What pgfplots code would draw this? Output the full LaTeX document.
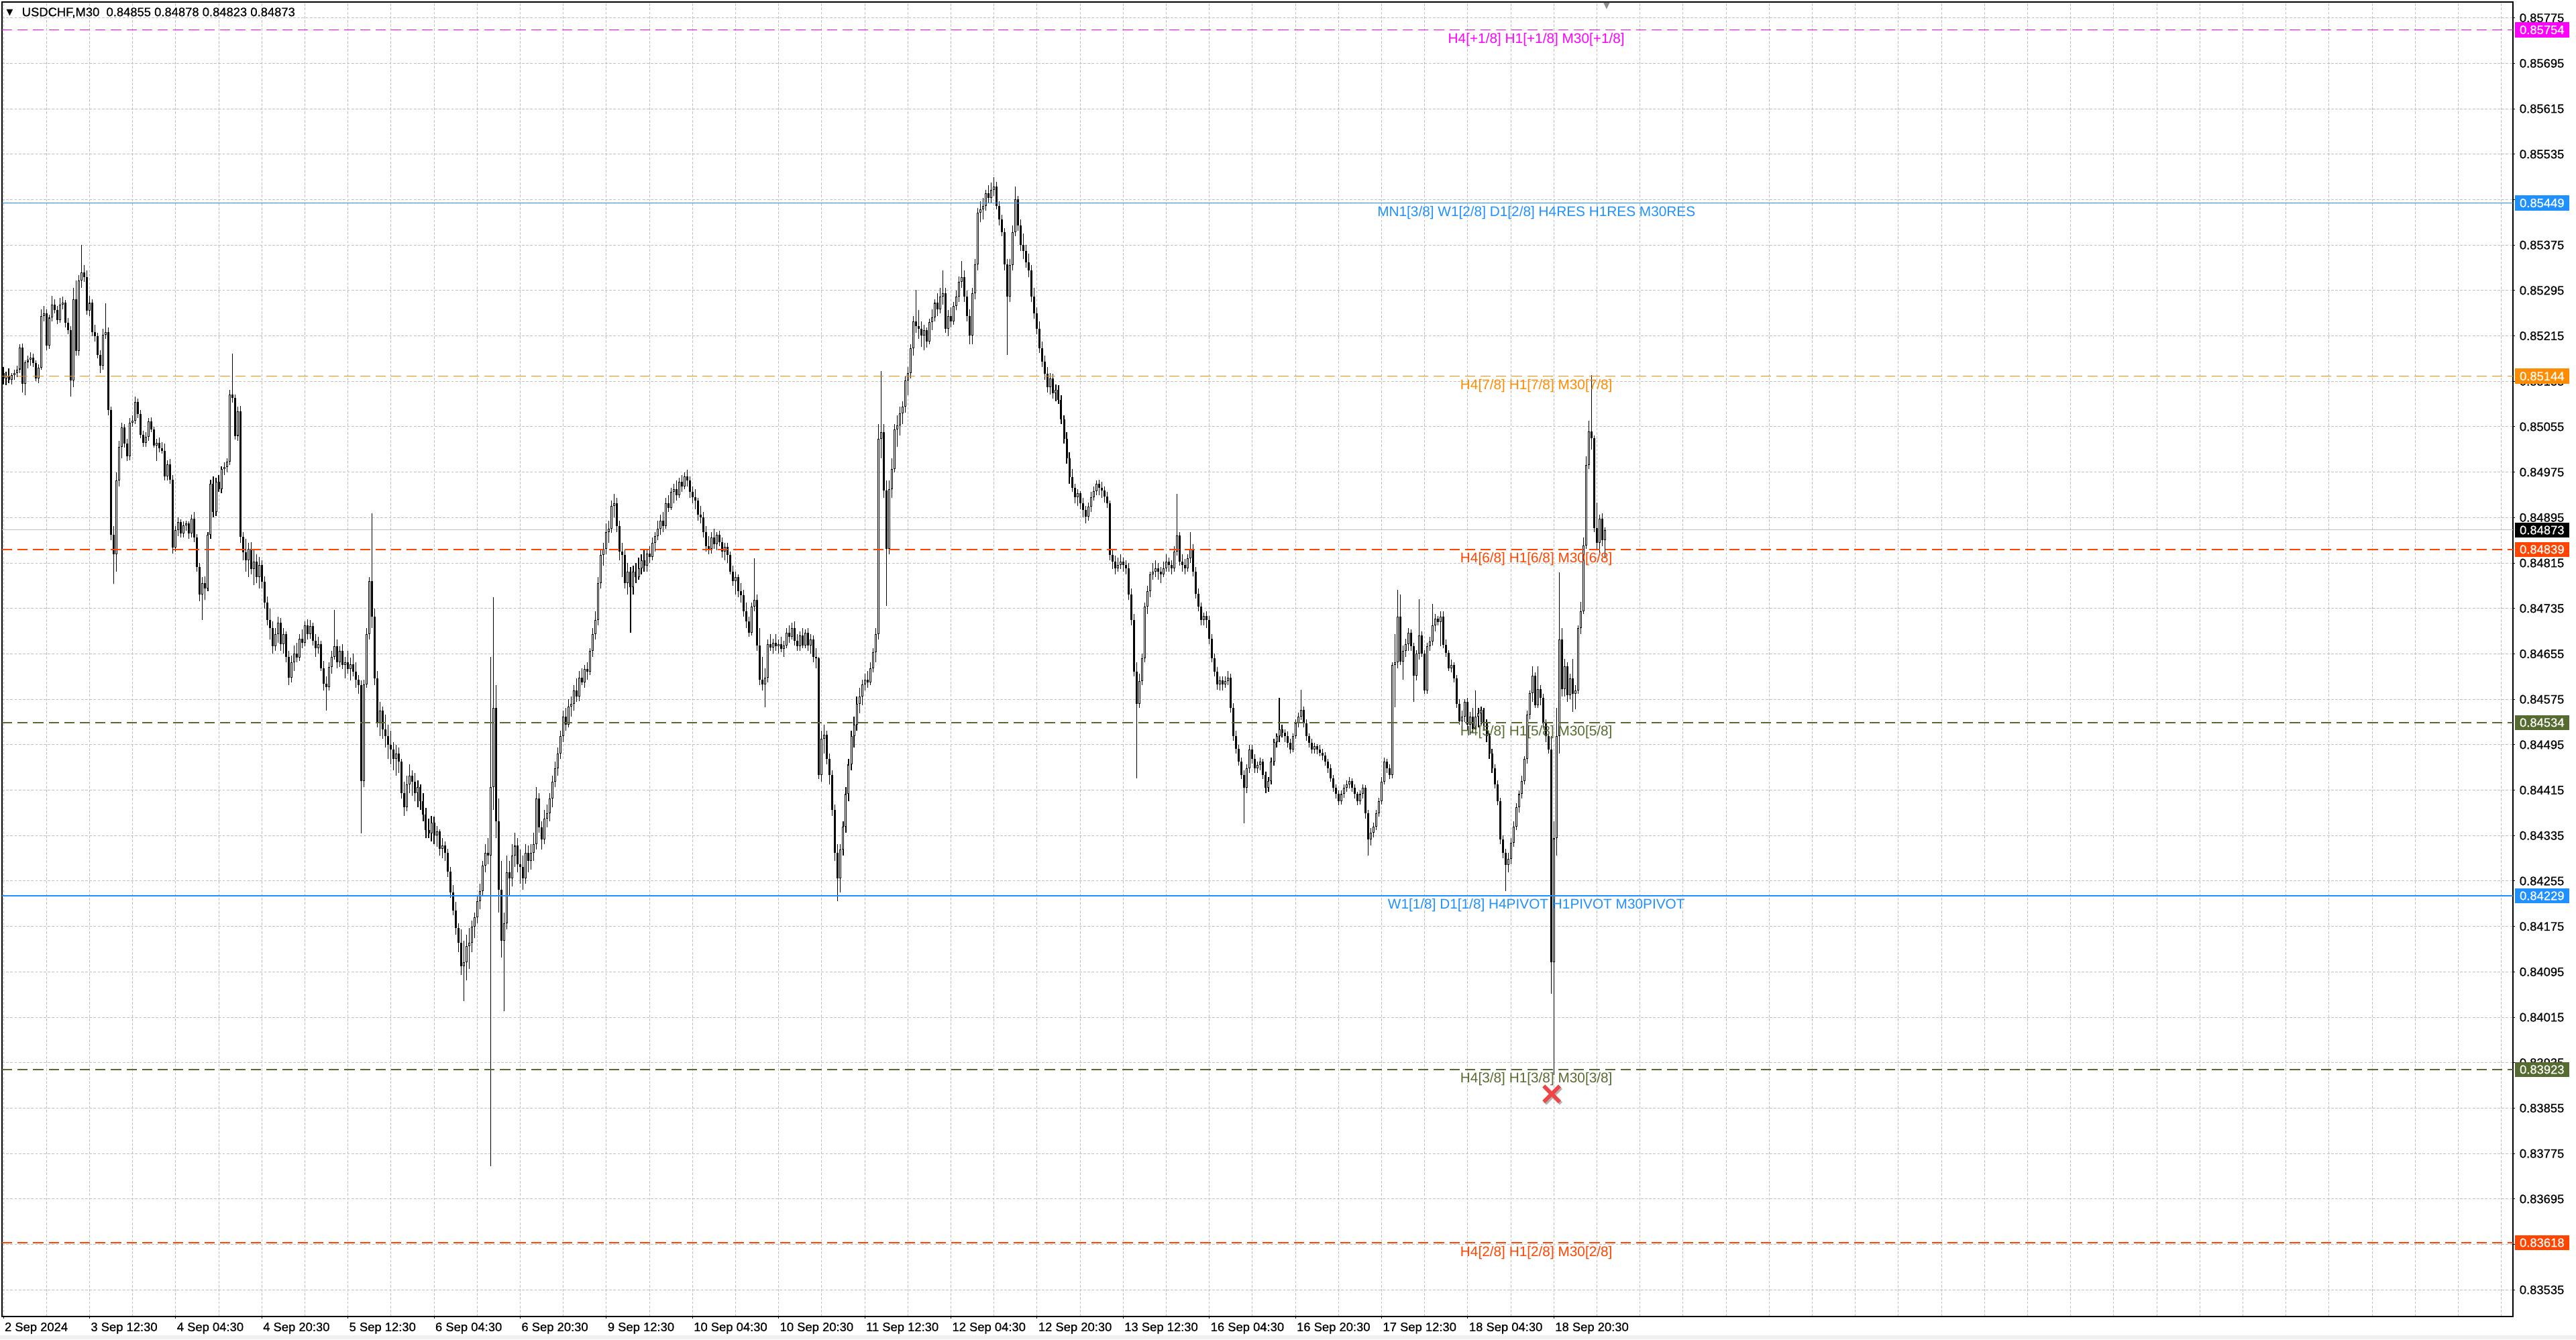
\documentclass[border=0pt]{standalone}
\usepackage{fontspec}
\setmainfont{Liberation Sans}
\newfontface\tickface[FakeBold=0.7]{Liberation Sans}
\newfontfamily\dejavu{DejaVu Sans}
\usepackage{pgfplots}
\usepackage{pgfplotstable}
\pgfplotsset{compat=1.18}

\definecolor{lvmag}{HTML}{FF00FF}
\definecolor{lvblue}{HTML}{1E90FF}
\definecolor{lvorange}{HTML}{FF8C00}
\definecolor{lvred}{HTML}{FF4500}
\definecolor{lvolive}{HTML}{556B2F}
\definecolor{gridgray}{HTML}{C0C0C0}
\definecolor{xred}{HTML}{EE4646}

\newcommand{\tinyfont}{\tickface\fontsize{4.6}{5}\selectfont}
\newcommand{\lvfont}{\fontsize{5.2}{6}\selectfont}

% USDCHF M30 bars, prices in points (1e-5): index open high low close
\pgfplotstableread{
i o h l c
0 85150 85160 85130 85140
1 85140 85152 85128 85145
2 85145 85158 85132 85138
3 85138 85150 85130 85146
4 85146 85156 85138 85150
5 85150 85162 85142 85156
6 85156 85200 85150 85194
7 85194 85202 85115 85131
8 85131 85172 85110 85169
9 85169 85180 85158 85173
10 85173 85186 85162 85177
11 85177 85184 85160 85167
12 85167 85172 85135 85140
13 85140 85165 85132 85159
14 85159 85262 85155 85250
15 85250 85268 85240 85255
16 85255 85262 85190 85198
17 85198 85252 85192 85247
18 85247 85285 85240 85270
19 85270 85280 85255 85261
20 85261 85268 85236 85243
21 85243 85282 85238 85270
22 85270 85284 85262 85274
23 85274 85278 85230 85238
24 85238 85246 85218 85225
25 85225 85232 85108 85136
26 85136 85300 85125 85280
27 85280 85312 85180 85188
28 85188 85322 85180 85313
29 85313 85375 85300 85327
30 85327 85340 85310 85318
31 85318 85330 85252 85259
32 85259 85285 85250 85273
33 85273 85280 85215 85222
34 85222 85235 85205 85214
35 85214 85220 85175 85181
36 85181 85190 85150 85162
37 85162 85228 85155 85217
38 85217 85272 85210 85222
39 85222 85230 85075 85084
40 85084 85090 84855 84865
41 84865 84880 84778 84830
42 84830 84975 84800 84960
43 84960 85030 84950 85020
44 85020 85062 85000 85054
45 85054 85060 85018 85025
46 85025 85034 84995 85003
47 85003 85070 84996 85062
48 85062 85075 85055 85066
49 85066 85108 85060 85099
50 85099 85105 85070 85078
51 85078 85085 85035 85041
52 85041 85048 85020 85027
53 85027 85045 85020 85037
54 85037 85070 85030 85064
55 85064 85072 85045 85050
56 85050 85055 85018 85022
57 85022 85034 84995 85027
58 85027 85036 85010 85017
59 85017 85028 85008 85012
60 85012 85026 84960 84968
61 84968 84996 84960 84989
62 84989 84998 84955 84962
63 84962 84970 84832 84842
64 84842 84880 84835 84873
65 84873 84895 84862 84887
66 84887 84892 84860 84867
67 84867 84888 84860 84881
68 84881 84890 84872 84885
69 84885 84888 84858 84867
70 84867 84900 84860 84893
71 84893 84905 84852 84860
72 84860 84866 84800 84808
73 84808 84815 84748 84760
74 84760 84790 84715 84780
75 84780 84792 84750 84770
76 84770 84870 84765 84865
77 84865 84962 84858 84955
78 84955 84968 84895 84905
79 84905 84965 84898 84958
80 84958 84970 84940 84945
81 84945 84985 84938 84980
82 84980 84992 84970 84984
83 84984 85000 84975 84993
84 84993 85120 84988 85112
85 85112 85184 85098 85106
86 85106 85112 85032 85039
87 85039 85090 85030 85082
88 85082 85092 84850 84861
89 84861 84870 84820 84834
90 84834 84858 84800 84820
91 84820 84850 84790 84840
92 84840 84852 84795 84805
93 84805 84838 84776 84818
94 84818 84830 84780 84790
95 84790 84826 84770 84812
96 84812 84820 84770 84782
97 84782 84792 84735 84745
98 84745 84756 84705 84715
99 84715 84735 84680 84700
100 84700 84712 84655 84668
101 84668 84700 84660 84690
102 84690 84720 84675 84710
103 84710 84718 84660 84672
104 84672 84700 84655 84690
105 84690 84695 84640 84650
106 84650 84660 84600 84613
107 84613 84652 84605 84640
108 84640 84670 84625 84655
109 84655 84675 84640 84648
110 84648 84690 84642 84682
111 84682 84698 84665 84675
112 84675 84712 84668 84705
113 84705 84716 84680 84690
114 84690 84715 84682 84704
115 84704 84710 84670 84678
116 84678 84690 84650 84665
117 84665 84685 84655 84672
118 84672 84678 84625 84630
119 84630 84642 84590 84602
120 84602 84615 84555 84596
121 84596 84640 84590 84632
122 84632 84660 84620 84650
123 84650 84732 84645 84668
124 84668 84680 84630 84640
125 84640 84668 84632 84660
126 84660 84672 84628 84636
127 84636 84650 84612 84640
128 84640 84660 84620 84628
129 84628 84648 84608 84637
130 84637 84656 84615 84624
131 84624 84640 84595 84610
132 84610 84618 84585 84600
133 84600 84608 84339 84431
134 84431 84610 84420 84601
135 84601 84700 84595 84690
136 84690 84790 84680 84783
137 84783 84903 84700 84720
138 84720 84735 84600 84612
139 84612 84625 84525 84533
140 84533 84570 84510 84555
141 84555 84562 84505 84522
142 84522 84548 84490 84510
143 84510 84530 84470 84495
144 84495 84520 84460 84487
145 84487 84500 84450 84470
146 84470 84495 84440 84480
147 84480 84490 84445 84465
148 84465 84470 84400 84410
149 84410 84430 84370 84385
150 84385 84440 84378 84425
151 84425 84460 84410 84440
152 84440 84450 84405 84430
153 84430 84445 84395 84410
154 84410 84432 84385 84420
155 84420 84425 84380 84396
156 84396 84410 84360 84372
157 84372 84384 84330 84345
158 84345 84365 84330 84339
159 84339 84370 84325 84358
160 84358 84368 84320 84335
161 84335 84352 84315 84342
162 84342 84346 84300 84312
163 84312 84330 84295 84318
164 84318 84325 84290 84305
165 84305 84312 84262 84271
166 84271 84280 84225 84235
167 84235 84248 84195 84203
168 84203 84218 84160 84172
169 84172 84180 84130 84146
170 84146 84170 84090 84105
171 84105 84150 84043 84112
172 84112 84160 84080 84140
173 84140 84172 84100 84146
174 84146 84185 84130 84175
175 84175 84200 84155 84191
176 84191 84228 84180 84220
177 84220 84250 84205 84237
178 84237 84290 84230 84282
179 84282 84320 84270 84305
180 84305 84330 84285 84300
181 84300 84650 83753 84420
182 84420 84755 84380 84560
183 84560 84600 84330 84360
184 84360 84400 84200 84240
185 84240 84290 84120 84150
186 84150 84200 84026 84180
187 84180 84300 84170 84270
188 84270 84290 84230 84260
189 84260 84320 84245 84300
190 84300 84340 84280 84317
191 84317 84330 84270 84285
192 84285 84310 84250 84280
193 84280 84300 84240 84260
194 84260 84320 84250 84305
195 84305 84318 84270 84290
196 84290 84320 84275 84305
197 84305 84340 84290 84320
198 84320 84420 84310 84400
199 84400 84410 84340 84350
200 84350 84360 84310 84328
201 84328 84380 84320 84365
202 84365 84390 84350 84374
203 84374 84410 84360 84400
204 84400 84440 84385 84430
205 84430 84465 84420 84453
206 84453 84490 84440 84480
207 84480 84520 84470 84510
208 84510 84555 84500 84544
209 84544 84560 84520 84530
210 84530 84575 84525 84562
211 84562 84580 84545 84567
212 84567 84600 84555 84590
213 84590 84612 84570 84580
214 84580 84625 84572 84613
215 84613 84630 84600 84605
216 84605 84635 84595 84628
217 84628 84640 84610 84624
218 84624 84665 84618 84660
219 84660 84700 84650 84690
220 84690 84730 84680 84715
221 84715 84790 84705 84780
222 84780 84840 84770 84829
223 84829 84850 84810 84840
224 84840 84885 84830 84870
225 84870 84890 84850 84875
226 84875 84925 84868 84915
227 84915 84937 84895 84920
228 84920 84930 84870 84880
229 84880 84890 84820 84835
230 84835 84850 84790 84829
231 84829 84840 84770 84780
232 84780 84815 84760 84800
233 84800 84808 84692 84772
234 84772 84810 84760 84800
235 84800 84815 84780 84790
236 84790 84825 84785 84806
237 84806 84830 84795 84820
238 84820 84840 84800 84810
239 84810 84840 84800 84832
240 84832 84845 84815 84826
241 84826 84860 84820 84850
242 84850 84870 84835 84862
243 84862 84890 84855 84875
244 84875 84900 84865 84890
245 84890 84905 84870 84880
246 84880 84930 84875 84920
247 84920 84935 84905 84912
248 84912 84948 84908 84940
249 84940 84955 84920 84945
250 84945 84960 84925 84935
251 84935 84965 84930 84958
252 84958 84970 84940 84950
253 84950 84975 84945 84968
254 84968 84979 84950 84960
255 84960 84968 84930 84940
256 84940 84950 84920 84931
257 84931 84945 84910 84925
258 84925 84930 84890 84900
259 84900 84915 84885 84895
260 84895 84905 84860 84870
261 84870 84880 84835 84845
262 84845 84862 84830 84840
263 84840 84870 84832 84860
264 84860 84875 84840 84848
265 84848 84870 84838 84865
266 84865 84872 84845 84852
267 84852 84860 84825 84835
268 84835 84850 84820 84843
269 84843 84850 84815 84829
270 84829 84835 84795 84800
271 84800 84810 84775 84783
272 84783 84800 84760 84790
273 84790 84795 84755 84765
274 84765 84780 84745 84758
275 84758 84768 84720 84730
276 84730 84745 84700 84712
277 84712 84720 84685 84692
278 84692 84745 84688 84738
279 84738 84823 84730 84750
280 84750 84760 84660 84670
281 84670 84700 84600 84610
282 84610 84650 84590 84601
283 84601 84630 84561 84613
284 84613 84680 84605 84672
285 84672 84690 84660 84666
286 84666 84682 84655 84675
287 84675 84690 84660 84668
288 84668 84680 84655 84672
289 84672 84685 84658 84664
290 84664 84678 84650 84670
291 84670 84700 84665 84692
292 84692 84705 84675 84685
293 84685 84710 84680 84700
294 84700 84712 84670 84678
295 84678 84690 84660 84668
296 84668 84695 84660 84688
297 84688 84700 84665 84670
298 84670 84698 84665 84692
299 84692 84700 84660 84670
300 84670 84690 84655 84680
301 84680 84688 84640 84650
302 84650 84665 84630 84647
303 84647 84650 84435 84442
304 84442 84520 84430 84505
305 84505 84530 84480 84512
306 84512 84520 84460 84470
307 84470 84480 84425 84442
308 84442 84450 84370 84380
309 84380 84390 84290 84305
310 84305 84320 84220 84260
311 84260 84320 84235 84310
312 84310 84360 84300 84351
313 84351 84420 84340 84408
314 84408 84470 84395 84460
315 84460 84520 84450 84510
316 84510 84545 84490 84530
317 84530 84580 84520 84567
318 84567 84595 84550 84580
319 84580 84610 84565 84601
320 84601 84620 84590 84610
321 84610 84625 84595 84605
322 84605 84640 84600 84630
323 84630 84665 84622 84658
324 84658 84700 84640 84690
325 84690 85060 84680 85034
326 85034 85153 85000 85045
327 85045 85060 84930 84943
328 84943 84960 84740 84840
329 84840 84960 84830 84945
330 84945 85000 84930 84980
331 84980 85060 84975 85050
332 85050 85075 85020 85057
333 85057 85090 85040 85079
334 85079 85100 85060 85090
335 85090 85145 85080 85136
336 85136 85160 85110 85150
337 85150 85200 85140 85193
338 85193 85250 85180 85240
339 85240 85296 85220 85232
340 85232 85260 85210 85228
341 85228 85240 85196 85216
342 85216 85235 85190 85225
343 85225 85230 85195 85205
344 85205 85245 85200 85239
345 85239 85262 85225 85248
346 85248 85280 85240 85273
347 85273 85290 85250 85262
348 85262 85300 85255 85284
349 85284 85330 85270 85290
350 85290 85300 85220 85227
351 85227 85260 85215 85250
352 85250 85265 85230 85240
353 85240 85275 85235 85268
354 85268 85295 85260 85284
355 85284 85320 85275 85310
356 85310 85347 85300 85318
357 85318 85330 85275 85284
358 85284 85295 85240 85250
359 85250 85262 85200 85216
360 85216 85300 85200 85290
361 85290 85350 85280 85341
362 85341 85440 85330 85432
363 85432 85452 85415 85438
364 85438 85458 85420 85444
365 85444 85472 85435 85466
366 85466 85480 85448 85458
367 85458 85485 85450 85472
368 85472 85495 85462 85478
369 85478 85486 85438 85444
370 85444 85452 85410 85420
371 85420 85428 85390 85398
372 85398 85405 85330 85341
373 85341 85350 85182 85284
374 85284 85350 85275 85340
375 85340 85410 85330 85398
376 85398 85478 85390 85455
377 85455 85462 85400 85410
378 85410 85420 85365 85375
379 85375 85395 85350 85364
380 85364 85375 85335 85345
381 85345 85360 85318 85330
382 85330 85340 85275 85284
383 85284 85300 85245 85255
384 85255 85265 85218 85227
385 85227 85240 85185 85193
386 85193 85205 85160 85170
387 85170 85180 85138 85148
388 85148 85160 85115 85125
389 85125 85150 85112 85140
390 85140 85148 85105 85114
391 85114 85130 85100 85120
392 85120 85128 85095 85102
393 85102 85110 85060 85068
394 85068 85075 85025 85034
395 85034 85045 84990 85000
396 85000 85010 84955 84966
397 84966 84980 84940 84948
398 84948 84955 84920 84931
399 84931 84945 84915 84938
400 84938 84942 84910 84920
401 84920 84930 84895 84908
402 84908 84915 84885 84897
403 84897 84922 84890 84914
404 84914 84940 84905 84931
405 84931 84950 84925 84942
406 84942 84960 84935 84954
407 84954 84962 84935 84948
408 84948 84958 84930 84943
409 84943 84950 84922 84932
410 84932 84940 84912 84920
411 84920 84925 84820 84829
412 84829 84840 84805 84818
413 84818 84828 84795 84806
414 84806 84825 84800 84812
415 84812 84830 84805 84818
416 84818 84825 84800 84812
417 84812 84820 84795 84806
418 84806 84815 84750 84760
419 84760 84770 84705 84715
420 84715 84725 84615 84624
421 84624 84640 84436 84567
422 84567 84620 84560 84607
423 84607 84655 84600 84647
424 84647 84745 84640 84738
425 84738 84775 84725 84766
426 84766 84800 84755 84795
427 84795 84815 84785 84800
428 84800 84820 84790 84806
429 84806 84815 84785 84800
430 84800 84808 84780 84795
431 84795 84818 84790 84806
432 84806 84830 84800 84818
433 84818 84825 84800 84812
434 84812 84820 84795 84806
435 84806 84845 84800 84835
436 84835 84937 84828 84863
437 84863 84870 84810 84818
438 84818 84830 84800 84812
439 84812 84822 84795 84806
440 84806 84830 84800 84823
441 84823 84870 84815 84840
442 84840 84848 84792 84800
443 84800 84808 84752 84761
444 84761 84770 84730 84738
445 84738 84745 84705 84715
446 84715 84728 84705 84722
447 84722 84730 84700 84715
448 84715 84722 84672 84681
449 84681 84690 84640 84647
450 84647 84655 84615 84624
451 84624 84632 84592 84601
452 84601 84615 84590 84608
453 84608 84615 84590 84601
454 84601 84615 84595 84607
455 84607 84625 84600 84613
456 84613 84620 84552 84560
457 84560 84568 84502 84510
458 84510 84520 84480 84488
459 84488 84495 84458 84465
460 84465 84472 84435 84442
461 84442 84450 84357 84419
462 84419 84460 84410 84453
463 84453 84495 84445 84487
464 84487 84495 84462 84470
465 84470 84478 84445 84453
466 84453 84465 84445 84459
467 84459 84472 84450 84465
468 84465 84470 84435 84442
469 84442 84448 84410 84419
470 84419 84438 84412 84431
471 84431 84472 84425 84465
472 84465 84505 84458 84499
473 84499 84515 84490 84510
474 84510 84578 84500 84522
475 84522 84530 84508 84516
476 84516 84522 84500 84510
477 84510 84518 84490 84498
478 84498 84505 84480 84487
479 84487 84515 84482 84510
480 84510 84540 84505 84533
481 84533 84552 84525 84545
482 84545 84592 84538 84556
483 84556 84562 84525 84533
484 84533 84540 84502 84510
485 84510 84515 84490 84498
486 84498 84505 84480 84487
487 84487 84498 84480 84492
488 84492 84496 84478 84487
489 84487 84495 84475 84481
490 84481 84488 84468 84476
491 84476 84482 84458 84465
492 84465 84470 84445 84453
493 84453 84460 84430 84436
494 84436 84442 84412 84419
495 84419 84425 84400 84408
496 84408 84415 84388 84396
497 84396 84415 84390 84408
498 84408 84425 84402 84419
499 84419 84432 84412 84425
500 84425 84438 84418 84431
501 84431 84436 84412 84419
502 84419 84425 84400 84408
503 84408 84412 84388 84396
504 84396 84415 84390 84408
505 84408 84425 84400 84419
506 84419 84424 84365 84374
507 84374 84380 84300 84328
508 84328 84348 84318 84340
509 84340 84358 84332 84351
510 84351 84380 84345 84374
511 84374 84402 84368 84396
512 84396 84438 84390 84430
513 84430 84472 84425 84465
514 84465 84470 84445 84453
515 84453 84460 84435 84442
516 84442 84640 84436 84635
517 84635 84690 84561 84640
518 84640 84768 84630 84720
519 84720 84760 84635 84641
520 84641 84670 84610 84660
521 84660 84682 84650 84672
522 84672 84700 84660 84692
523 84692 84698 84660 84669
524 84669 84675 84570 84616
525 84616 84662 84608 84655
526 84655 84751 84645 84688
527 84688 84695 84650 84656
528 84656 84662 84585 84591
529 84591 84675 84585 84669
530 84669 84685 84660 84677
531 84677 84743 84670 84705
532 84705 84725 84695 84717
533 84717 84722 84705 84711
534 84711 84730 84668 84721
535 84721 84730 84665 84671
536 84671 84680 84650 84657
537 84657 84662 84625 84630
538 84630 84645 84622 84635
539 84635 84640 84605 84612
540 84612 84618 84560 84567
541 84567 84575 84530 84536
542 84536 84555 84525 84545
543 84545 84575 84535 84570
544 84570 84578 84520 84530
545 84530 84553 84512 84545
546 84545 84560 84515 84522
547 84522 84590 84518 84544
548 84544 84560 84525 84550
549 84550 84562 84530 84556
550 84556 84560 84520 84533
551 84533 84540 84500 84510
552 84510 84515 84470 84480
553 84480 84488 84445 84453
554 84453 84460 84418 84425
555 84425 84432 84388 84396
556 84396 84402 84320 84328
557 84328 84335 84295 84305
558 84305 84312 84237 84283
559 84283 84305 84270 84294
560 84294 84330 84285 84322
561 84322 84360 84315 84351
562 84351 84392 84345 84385
563 84385 84415 84375 84408
564 84408 84440 84400 84431
565 84431 84475 84425 84470
566 84470 84555 84462 84548
567 84548 84590 84540 84586
568 84586 84633 84570 84616
569 84616 84622 84560 84565
570 84565 84633 84560 84593
571 84593 84600 84565 84578
572 84578 84585 84525 84533
573 84533 84540 84500 84510
574 84510 84520 84480 84487
575 84487 84510 84056 84112
576 84112 84360 83914 84330
577 84330 84560 84300 84510
578 84510 84798 84480 84680
579 84680 84700 84580 84593
580 84593 84646 84580 84633
581 84633 84640 84570 84582
582 84582 84620 84575 84612
583 84612 84646 84553 84585
584 84585 84600 84557 84590
585 84590 84705 84585 84700
586 84700 84747 84690 84730
587 84730 84860 84725 84846
588 84846 85003 84840 84988
589 84988 85066 84980 85047
590 85047 85146 85015 85035
591 85035 85040 84870 84876
592 84876 84922 84840 84850
593 84850 84900 84831 84893
594 84893 84903 84845 84855
595 84855 84878 84823 84873
}\bars

\begin{document}
\begin{tikzpicture}
\useasboundingbox (0,0) rectangle (960pt,499pt);
\fill[black!6] (0,0) rectangle (960pt,1.6pt);
\begin{axis}[
  at={(0.75pt,498.25pt)}, anchor=north west,
  scale only axis, width=935.75pt, height=489.75pt,
  xmin=-0.5, xmax=932.3, ymin=83488, ymax=85803,
  axis line style={black, line width=0.35pt},
  tick align=outside, major tick length=0.75pt, minor tick length=0pt,
  tick style={black, line width=0.25pt},
  xtick pos=bottom, ytick pos=right, yticklabel pos=right,
  xtick={0,32,64,96,128,160,192,224,256,288,320,352,384,416,448,480,512,544,576},
  xticklabels={2 Sep 2024, 3 Sep 12:30, 4 Sep 04:30, 4 Sep 20:30, 5 Sep 12:30, 6 Sep 04:30, 6 Sep 20:30, 9 Sep 12:30, 10 Sep 04:30, 10 Sep 20:30, 11 Sep 12:30, 12 Sep 04:30, 12 Sep 20:30, 13 Sep 12:30, 16 Sep 04:30, 16 Sep 20:30, 17 Sep 12:30, 18 Sep 04:30, 18 Sep 20:30},
  minor xtick={16,48,80,112,144,176,208,240,272,304,336,368,400,432,464,496,528,560,592,608,624,640,656,672,688,704,720,736,752,768,784,800,816,832,848,864,880,896,912,928},
  ytick={83535,83615,83695,83775,83855,83935,84015,84095,84175,84255,84335,84415,84495,84575,84655,84735,84815,84895,84975,85055,85135,85215,85295,85375,85455,85535,85615,85695,85775},
  yticklabels={0.83535,0.83615,0.83695,0.83775,0.83855,0.83935,0.84015,0.84095,0.84175,0.84255,0.84335,0.84415,0.84495,0.84575,0.84655,0.84735,0.84815,0.84895,0.84975,0.85055,0.85135,0.85215,0.85295,0.85375,0.85455,0.85535,0.85615,0.85695,0.85775},
  grid=both,
  grid style={gridgray, line width=0.25pt, dash pattern=on 0.95pt off 0.6pt},
  xticklabel style={font=\tinyfont, anchor=north west, inner sep=0pt, xshift=0.3pt, yshift=-1.3pt},
  yticklabel style={font=\tinyfont, anchor=west, inner sep=0pt, xshift=1.5pt},
]
% bid line
\addplot[black!25, line width=0.25pt, forget plot] coordinates {(-0.5,84873) (932.3,84873)};
% wicks
\addplot[draw=none, mark=none, forget plot,
  error bars/.cd, y dir=plus, y explicit, error mark=none,
  error bar style={draw=black, solid, line width=0.27pt}]
  table[x=i, y=l, y error plus expr=\thisrow{h}-\thisrow{l}] {\bars};
% bodies
\addplot[draw=none, mark=none, forget plot,
  error bars/.cd, y dir=both, y explicit, error mark=none,
  error bar style={draw=black, solid, line width=0.75pt}]
  table[x=i, y=o, y error plus expr={max(\thisrow{c}-\thisrow{o},0)}, y error minus expr={max(\thisrow{o}-\thisrow{c},0)}] {\bars};
% hollow inside of up bars
\addplot[draw=none, mark=none, forget plot,
  restrict expr to domain={\thisrow{c}-\thisrow{o}}{3:100000},
  error bars/.cd, y dir=plus, y explicit, error mark=none,
  error bar style={draw=white, solid, line width=0.25pt}]
  table[x=i, y expr=\thisrow{o}+1.2, y error plus expr=\thisrow{c}-\thisrow{o}-2.4] {\bars};

% Murrey levels
\addplot[lvmag, line width=0.4pt, dash pattern=on 3.8pt off 2pt] coordinates {(-0.5,85754) (932.3,85754)};
\addplot[lvblue, line width=0.4pt] coordinates {(-0.5,85449) (932.3,85449)};
\addplot[lvorange, line width=0.4pt, dash pattern=on 3.8pt off 2pt] coordinates {(-0.5,85144) (932.3,85144)};
\addplot[lvred, line width=0.4pt, dash pattern=on 3.8pt off 2pt] coordinates {(-0.5,84839) (932.3,84839)};
\addplot[lvolive, line width=0.4pt, dash pattern=on 3.8pt off 2pt] coordinates {(-0.5,84534) (932.3,84534)};
\addplot[lvblue, line width=0.3pt] coordinates {(-0.5,84229) (932.3,84229)};
\addplot[lvolive, line width=0.4pt, dash pattern=on 3.8pt off 2pt] coordinates {(-0.5,83923) (932.3,83923)};
\addplot[lvred, line width=0.4pt, dash pattern=on 3.8pt off 2pt] coordinates {(-0.5,83618) (932.3,83618)};

\begin{scope}[every node/.style={anchor=base, font=\lvfont, inner sep=0pt, yshift=-5pt}]
\node[text=lvmag] at (axis cs:569.5,85754) {H4[+1/8] H1[+1/8] M30[+1/8]};
\node[text=lvblue] at (axis cs:569.5,85449) {MN1[3/8] W1[2/8] D1[2/8] H4RES H1RES M30RES};
\node[text=lvorange] at (axis cs:569.5,85144) {H4[7/8] H1[7/8] M30[7/8]};
\node[text=lvred] at (axis cs:569.5,84839) {H4[6/8] H1[6/8] M30[6/8]};
\node[text=lvolive] at (axis cs:569.5,84534) {H4[5/8] H1[5/8] M30[5/8]};
\node[text=lvblue] at (axis cs:569.5,84229) {W1[1/8] D1[1/8] H4PIVOT H1PIVOT M30PIVOT};
\node[text=lvolive] at (axis cs:569.5,83923) {H4[3/8] H1[3/8] M30[3/8]};
\node[text=lvred] at (axis cs:569.5,83618) {H4[2/8] H1[2/8] M30[2/8]};
\end{scope}

% stop mark under the FOMC low
\addplot[only marks, mark=x, mark size=4.2pt, color=black!30, line width=1.4pt,
  mark options={xshift=0.5pt, yshift=-0.6pt}] coordinates {(575.2,83880)};
\addplot[only marks, mark=x, mark size=4.2pt, color=xred, line width=1.4pt] coordinates {(575.2,83880)};

% header
\node[anchor=west, font=\tinyfont, inner sep=0pt] at (rel axis cs:0,1) [xshift=7.25pt, yshift=-4pt] {USDCHF,M30\ \ 0.84855 0.84878 0.84823 0.84873};
\node[font=\dejavu\fontsize{3.2}{3.2}\selectfont, inner sep=0pt] at (rel axis cs:0,1) [xshift=2.9pt, yshift=-4pt] {▼};
\node[font=\dejavu\fontsize{3.2}{3.2}\selectfont, text=black!45, inner sep=0pt, anchor=north] at (axis cs:595.6,85803) {▼};

\coordinate (b1) at (axis cs:932.3,85754);
\coordinate (b2) at (axis cs:932.3,85449);
\coordinate (b3) at (axis cs:932.3,85144);
\coordinate (b4) at (axis cs:932.3,84873);
\coordinate (b5) at (axis cs:932.3,84839);
\coordinate (b6) at (axis cs:932.3,84534);
\coordinate (b7) at (axis cs:932.3,84229);
\coordinate (b8) at (axis cs:932.3,83923);
\coordinate (b9) at (axis cs:932.3,83618);
\end{axis}

\begin{scope}[every node/.style={anchor=west, font=\tinyfont, text=white, inner sep=0pt, minimum width=20.25pt, minimum height=5.6pt, xshift=0.5pt}]
\node[fill=lvmag] at (b1) {0.85754};
\node[fill=lvblue] at (b2) {0.85449};
\node[fill=lvorange] at (b3) {0.85144};
\node[fill=lvred] at (b5) {0.84839};
\node[fill=black] at (b4) {0.84873};
\node[fill=lvolive] at (b6) {0.84534};
\node[fill=lvblue] at (b7) {0.84229};
\node[fill=lvolive] at (b8) {0.83923};
\node[fill=lvred] at (b9) {0.83618};
\end{scope}
\end{tikzpicture}
\end{document}
